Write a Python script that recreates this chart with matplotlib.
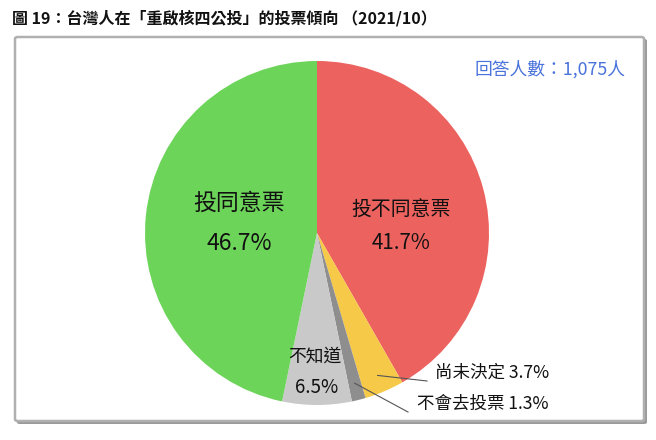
import numpy as np
import matplotlib
matplotlib.use("Agg")
import matplotlib.pyplot as plt
from matplotlib.patches import FancyBboxPatch

plt.rcParams['font.family'] = ['Noto Sans CJK TC', 'DejaVu Sans']

# data, clockwise from 12 o'clock
labels = ["投不同意票", "尚未決定", "不會去投票", "不知道", "投同意票"]
values = [41.7, 3.7, 1.3, 6.5, 46.7]
colors = ["#EC625E", "#F6CA48", "#8E8E8E", "#C9C9C9", "#6DD45A"]
title = "圖 19：台灣人在「重啟核四公投」的投票傾向 （2021/10）"
note = "回答人數：1,075人"

W, H = 656, 440
fig = plt.figure(figsize=(W / 100, H / 100), dpi=100)

def fx(px):
    return px / W

def fy(py):
    return 1 - py / H

# frame with shadow
shadow = FancyBboxPatch((fx(17), fy(424)), fx(630), 385 / H,
                        boxstyle="round,pad=0,rounding_size=0.004",
                        transform=fig.transFigure, facecolor="#9a9a9a",
                        edgecolor="none", zorder=0)
frame = FancyBboxPatch((fx(15), fy(421)), fx(629), 384 / H,
                       boxstyle="round,pad=0,rounding_size=0.004",
                       transform=fig.transFigure, facecolor="white",
                       edgecolor="#b0b0b0", linewidth=1.8, zorder=1)
fig.patches.extend([shadow, frame])

fig.text(fx(12), fy(18), title, fontsize=11.5, fontweight="bold",
         ha="left", va="center", color="#111111")
fig.text(fx(626), fy(70), note, fontsize=12.8, ha="right", va="center",
         color="#4A72DB")

# pie
cx, cy, r = 317, 233, 172
ax = fig.add_axes([fx(cx - r), (H - cy - r) / H, 2 * r / W, 2 * r / H])
ax.set_zorder(2)
wedges, _ = ax.pie(values, colors=colors, startangle=90, counterclock=False,
                   radius=1.0, wedgeprops=dict(linewidth=0))
ax.set_xlim(-1, 1)
ax.set_ylim(-1, 1)
ax.set_aspect("equal")
ax.axis("off")

# inner labels
txt = dict(ha="center", va="center", color="#111111")
fig.text(fx(239), fy(203), labels[4], fontsize=16.5, **txt)
fig.text(fx(239), fy(243), f"{values[4]}%", fontsize=16.5, **txt)
fig.text(fx(401), fy(209), labels[0], fontsize=14.3, **txt)
fig.text(fx(401), fy(243), f"{values[0]}%", fontsize=14.8, **txt)
fig.text(fx(315), fy(357), labels[3], fontsize=12.8, **txt)
fig.text(fx(317), fy(387), f"{values[3]}%", fontsize=13.5, **txt)

# outer labels with leader lines
outer = [(1, 427, 381, 435, 373), (2, 408, 412, 417, 404)]
for i, lx, ly, tx, ty in outer:
    w = wedges[i]
    ang = np.deg2rad((w.theta1 + w.theta2) / 2)
    x0, y0 = 0.9 * np.cos(ang), 0.9 * np.sin(ang)
    x1, y1 = (lx - cx) / r, (cy - ly) / r
    ax.plot([x0, x1], [y0, y1], color="#555555", lw=0.8, clip_on=False)
    fig.text(fx(tx), fy(ty), f"{labels[i]} {values[i]}%", fontsize=12.6,
             ha="left", va="center", color="#111111")

fig.savefig("out.png", dpi=100)
